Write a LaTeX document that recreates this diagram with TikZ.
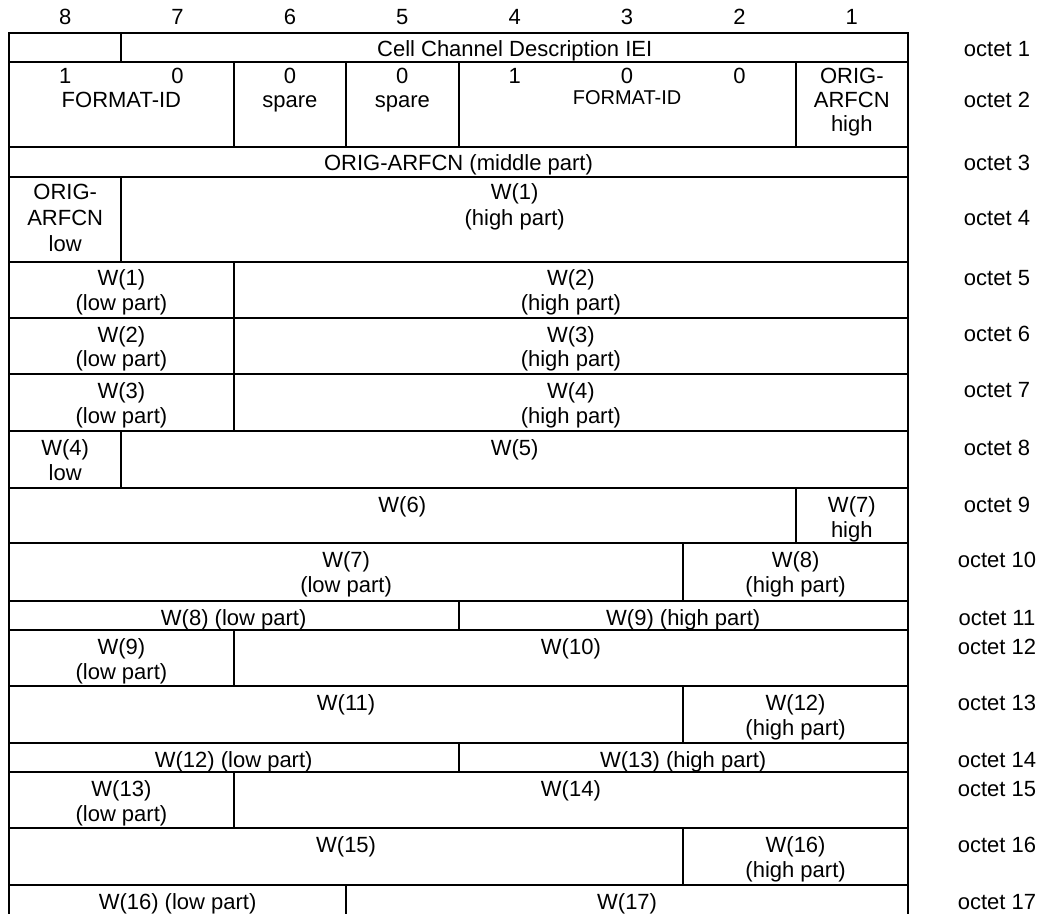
\documentclass[tikz,border=0pt]{standalone}
\usepackage{fontspec}
\setmainfont{Liberation Sans}
\usetikzlibrary{positioning}

\begin{document}
\begin{tikzpicture}[x=0.5pt,y=-0.5pt,
    cell/.style={anchor=base,align=center,inner sep=0pt,font=\fontsize{11}{12.5}\selectfont},
    small/.style={cell,font=\fontsize{10}{11}\selectfont},
    tight/.style={cell,font=\fontsize{11}{12}\selectfont},
    tall/.style={cell,font=\fontsize{11}{13}\selectfont},
    octet/.style={cell},
    rule/.style={line width=1pt}
    ]
    \useasboundingbox (0,0) rectangle (1054,914);

    % bit numbers
    \node[cell] (b8) at (65.2,25) {8};
    \node[cell] (b7) at (177.6,25) {7};
    \node[cell] (b6) at (289.9,25) {6};
    \node[cell] (b5) at (402.3,25) {5};
    \node[cell] (b4) at (514.7,25) {4};
    \node[cell] (b3) at (627.1,25) {3};
    \node[cell] (b2) at (739.4,25) {2};
    \node[cell] (b1) at (851.8,25) {1};

    % frame, row rules and cell borders
    \draw[rule] (9,914) -- (9,33) -- (908,33) -- (908,914);
    \foreach \y in {62,147,177,262,318,374,431,488,543,601,630,686,743,772,828,885}
      \draw[rule] (9,\y) -- (908,\y);
    \foreach \x/\a/\b in {121.4/33/62, 233.8/62/147, 346.1/62/147, 458.5/62/147,
        795.6/62/147, 121.4/177/262, 233.8/262/431, 121.4/431/488, 795.6/488/543,
        683.2/543/601, 458.5/601/630, 233.8/630/686, 683.2/686/743, 458.5/743/772,
        233.8/772/828, 683.2/828/885, 346.1/885/914}
      \draw[rule] (\x,\a) -- (\x,\b);

    % multi-line cells sit on the baseline of their last line
    \node[cell] (iei) at (514.7,57) {Cell Channel Description IEI};

    \node[cell] (id8) at (65.2,84) {1};
    \node[cell] (id7) at (177.6,84) {0};
    \node[cell] (fmtL) at (121.4,108) {FORMAT-ID};
    \node[tight] (spare6) at (289.9,108) {0\\spare};
    \node[tight] (spare5) at (402.3,108) {0\\spare};
    \node[cell] (id4) at (514.7,84) {1};
    \node[cell] (id3) at (627.1,84) {0};
    \node[cell] (id2) at (739.4,84) {0};
    \node[small] (fmtR) at (627.1,105) {FORMAT-ID};
    \node[tight] (arfcnhi) at (851.8,132) {ORIG-\\ARFCN\\high};

    \node[cell] (arfcnmid) at (458.5,171) {ORIG-ARFCN (middle part)};

    \node[tall] (arfcnlo) at (65.2,252) {ORIG-\\ARFCN\\low};
    \node[tall] (w1hi) at (514.7,226) {W(1)\\(high part)};

    \node[cell] (w1lo) at (121.4,311) {W(1)\\(low part)};
    \node[cell] (w2hi) at (570.9,311) {W(2)\\(high part)};
    \node[cell] (w2lo) at (121.4,367) {W(2)\\(low part)};
    \node[cell] (w3hi) at (570.9,367) {W(3)\\(high part)};
    \node[cell] (w3lo) at (121.4,423) {W(3)\\(low part)};
    \node[cell] (w4hi) at (570.9,423) {W(4)\\(high part)};

    \node[cell] (w4lo) at (65.2,480) {W(4)\\low};
    \node[cell] (w5) at (514.7,455) {W(5)};
    \node[cell] (w6) at (402.3,512) {W(6)};
    \node[cell] (w7hi) at (851.8,537) {W(7)\\high};
    \node[cell] (w7lo) at (346.1,592) {W(7)\\(low part)};
    \node[cell] (w8hi) at (795.6,592) {W(8)\\(high part)};
    \node[cell] (w8lo) at (233.7,625) {W(8) (low part)};
    \node[cell] (w9hi) at (683.2,625) {W(9) (high part)};
    \node[cell] (w9lo) at (121.4,679) {W(9)\\(low part)};
    \node[cell] (w10) at (570.9,654) {W(10)};
    \node[cell] (w11) at (346.1,710) {W(11)};
    \node[cell] (w12hi) at (795.6,735) {W(12)\\(high part)};
    \node[cell] (w12lo) at (233.7,767) {W(12) (low part)};
    \node[cell] (w13hi) at (683.2,767) {W(13) (high part)};
    \node[cell] (w13lo) at (121.4,821) {W(13)\\(low part)};
    \node[cell] (w14) at (570.9,796) {W(14)};
    \node[cell] (w15) at (346.1,852) {W(15)};
    \node[cell] (w16hi) at (795.6,877) {W(16)\\(high part)};
    \node[cell] (w16lo) at (177.6,909) {W(16) (low part)};
    \node[cell] (w17) at (627.1,909) {W(17)};

    % octet numbers
    \node[octet] (o1) at (997,57) {octet 1};
    \node[octet] (o2) at (997,108) {octet 2};
    \node[octet] (o3) at (997,171) {octet 3};
    \node[octet] (o4) at (997,226) {octet 4};
    \node[octet] (o5) at (997,286) {octet 5};
    \node[octet] (o6) at (997,342) {octet 6};
    \node[octet] (o7) at (997,398) {octet 7};
    \node[octet] (o8) at (997,455) {octet 8};
    \node[octet] (o9) at (997,512) {octet 9};
    \node[octet] (o10) at (997,567) {octet 10};
    \node[octet] (o11) at (997,625) {octet 11};
    \node[octet] (o12) at (997,654) {octet 12};
    \node[octet] (o13) at (997,710) {octet 13};
    \node[octet] (o14) at (997,767) {octet 14};
    \node[octet] (o15) at (997,796) {octet 15};
    \node[octet] (o16) at (997,852) {octet 16};
    \node[octet] (o17) at (997,909) {octet 17};
\end{tikzpicture}
\end{document}
